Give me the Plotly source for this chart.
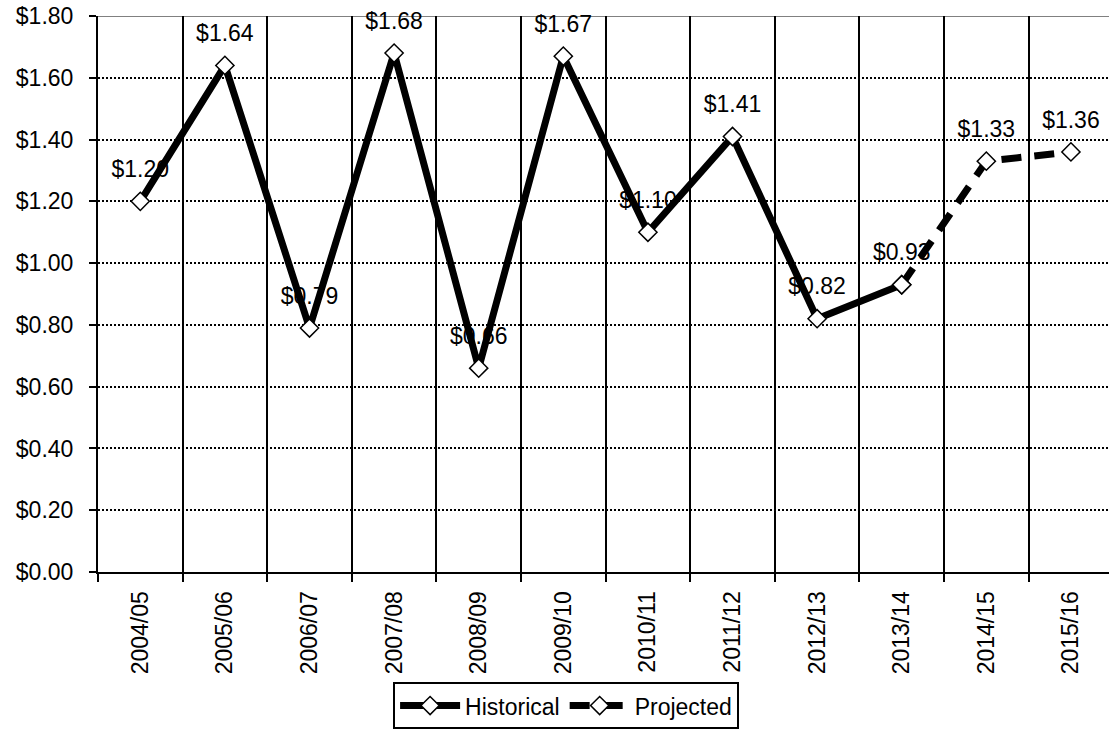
import plotly.graph_objects as go

categories = ["2004/05", "2005/06", "2006/07", "2007/08", "2008/09", "2009/10",
              "2010/11", "2011/12", "2012/13", "2013/14", "2014/15", "2015/16"]
historical_cats = categories[:10]
historical_vals = [1.20, 1.64, 0.79, 1.68, 0.66, 1.67, 1.10, 1.41, 0.82, 0.93]
projected_cats = categories[9:]
projected_vals = [0.93, 1.33, 1.36]

label_cats = categories
label_vals = historical_vals + projected_vals[1:]

FONT = "Arial, Liberation Sans, sans-serif"
FS = 23

fig = go.Figure()

# data labels (drawn beneath the lines)
fig.add_trace(go.Scatter(
    x=label_cats, y=label_vals, mode="markers+text",
    text=[f"${v:.2f}" for v in label_vals],
    textposition="top center",
    textfont=dict(family=FONT, size=FS, color="black"),
    marker=dict(size=28, opacity=0),
    showlegend=False, hoverinfo="skip", cliponaxis=False,
))

fig.add_trace(go.Scatter(
    x=historical_cats, y=historical_vals, mode="lines+markers",
    name="Historical",
    line=dict(color="black", width=7),
    marker=dict(symbol="diamond", size=14, color="white",
                line=dict(color="black", width=1.5)),
    cliponaxis=False,
))

fig.add_trace(go.Scatter(
    x=projected_cats, y=projected_vals, mode="lines+markers",
    name="Projected",
    line=dict(color="black", width=7, dash="20px,13px"),
    marker=dict(symbol="diamond", size=14, color="white",
                line=dict(color="black", width=1.5)),
    cliponaxis=False,
))

fig.add_shape(type="line", xref="paper", yref="y", x0=0, x1=1, y0=1.8, y1=1.8,
              line=dict(color="#808080", width=2), layer="below")

fig.update_layout(
    width=1109, height=754,
    margin=dict(l=98, r=0, t=16, b=182),
    paper_bgcolor="white", plot_bgcolor="white",
    font=dict(family=FONT, size=FS, color="black"),
    xaxis=dict(
        type="category", categoryorder="array", categoryarray=categories,
        range=[-0.5, 11.45],
        tickson="boundaries",
        showgrid=True, gridcolor="black", gridwidth=2,
        showline=True, linecolor="black", linewidth=2,
        ticks="outside", ticklen=8, tickwidth=2, tickcolor="black",
        tickangle=-90,
        ticklabelstandoff=8,
        tickfont=dict(family=FONT, size=FS, color="black"),
        zeroline=False,
    ),
    yaxis=dict(
        range=[0, 1.8], dtick=0.2, tick0=0,
        tickformat="$.2f",
        showgrid=True, gridcolor="black", gridwidth=2, griddash="2px,2px",
        showline=True, linecolor="black", linewidth=2,
        ticks="outside", ticklen=7, tickwidth=2, tickcolor="black",
        ticklabelstandoff=11,
        tickfont=dict(family=FONT, size=FS, color="black"),
        zeroline=False,
    ),
    legend=dict(
        orientation="h", x=0.463, xanchor="center", y=-0.198, yanchor="top",
        bordercolor="black", borderwidth=2, bgcolor="white",
        font=dict(family=FONT, size=FS, color="black"),
        itemwidth=60,
    ),
    showlegend=True,
)

fig.write_html("out.html")
